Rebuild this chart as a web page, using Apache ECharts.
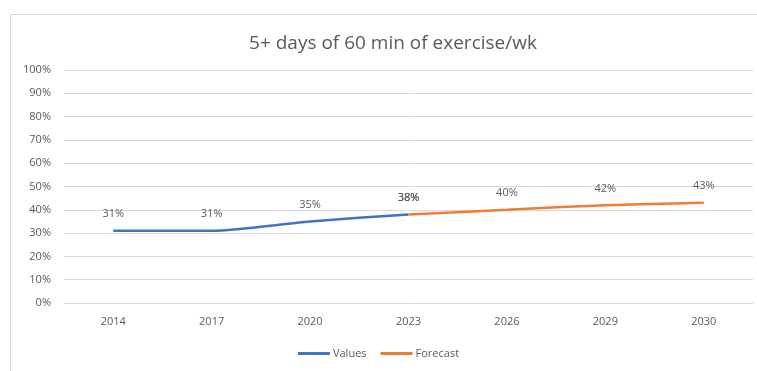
<!DOCTYPE html>
<html>
<head>
<meta charset="utf-8">
<script src="https://cdn.jsdelivr.net/npm/echarts@6/dist/echarts.min.js"></script>
<style>
  html, body { margin: 0; padding: 0; background: #fff; }
  #chart { width: 757px; height: 371px; }
</style>
</head>
<body>
<div id="chart"></div>
<script>
// data
const years = ["2014", "2017", "2020", "2023", "2026", "2029", "2030"];
const values = [31, 31, 35, 38, null, null, null];
const forecast = [null, null, null, 38, 40, 42, 43];
const yTicks = [0, 10, 20, 30, 40, 50, 60, 70, 80, 90, 100];

const textColor = "#595959";
const fontFam = "'Open Sans', 'Noto Sans', sans-serif";

const chart = echarts.init(document.getElementById("chart"), null, { renderer: "canvas" });

function lineSeries(name, data, color) {
  return {
    name: name,
    type: "line",
    data: data,
    smooth: 0.25,
    symbol: "circle",
    symbolSize: 0.1,
    showSymbol: true,
    connectNulls: false,
    lineStyle: { color: color, width: 2.5 },
    itemStyle: { color: color },
    label: {
      show: true,
      position: "top",
      distance: 11,
      formatter: (p) => p.value + "%",
      color: textColor,
      fontSize: 11,
      fontFamily: fontFam,
    },
  };
}

const option = {
  animation: false,
  graphic: [
    {
      type: "rect",
      left: 8,
      top: 12,
      shape: { width: 800, height: 400 },
      style: { fill: "none", stroke: "#d9d9d9", lineWidth: 1 },
      silent: true,
    },
  ],
  title: {
    text: "5+ days of 60 min of exercise/wk",
    left: 388,
    top: 29,
    textAlign: "center",
    textStyle: { color: textColor, fontSize: 19, fontWeight: "normal", fontFamily: fontFam },
  },
  legend: {
    bottom: 7,
    left: "center",
    itemWidth: 32,
    itemHeight: 3,
    itemGap: 14,
    icon: "rect",
    textStyle: { color: textColor, fontSize: 11, fontFamily: fontFam, padding: [0, 0, 0, -2] },
    data: ["Values", "Forecast"],
  },
  grid: { left: 64, right: 4, top: 70, bottom: 68, containLabel: false },
  xAxis: {
    type: "category",
    data: years,
    boundaryGap: true,
    axisLine: { show: true, lineStyle: { color: "#d9d9d9" } },
    axisTick: { show: false },
    axisLabel: { color: textColor, fontSize: 11, fontFamily: fontFam, margin: 13 },
  },
  yAxis: {
    type: "value",
    min: yTicks[0],
    max: yTicks[yTicks.length - 1],
    interval: 10,
    axisLine: { show: false },
    axisTick: { show: false },
    axisLabel: { color: textColor, fontSize: 11, fontFamily: fontFam, margin: 13, formatter: "{value}%" },
    splitLine: { lineStyle: { color: "#d9d9d9", width: 1 } },
  },
  series: [
    lineSeries("Values", values, "#4472C4"),
    lineSeries("Forecast", forecast, "#ED7D31"),
  ],
};

chart.setOption(option);
</script>
</body>
</html>
